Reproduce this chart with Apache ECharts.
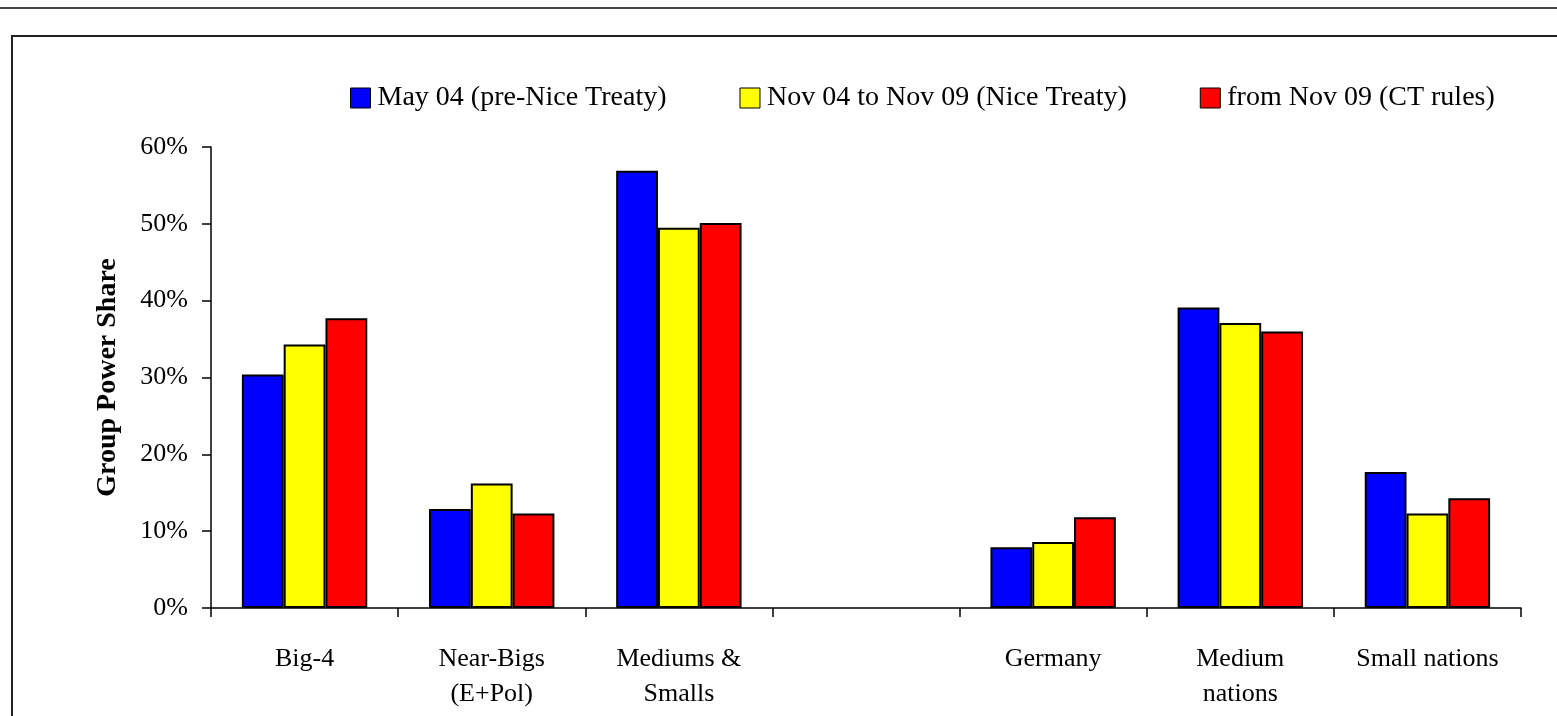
<!DOCTYPE html>
<html>
<head>
<meta charset="utf-8">
<script src="https://cdn.jsdelivr.net/npm/echarts@6/dist/echarts.min.js"></script>
</head>
<body style="height: 100%; margin: 0; background: #fff">
<div id="container" style="width: 1557px; height: 716px"></div>
<script>
  // groups (index 3 is the empty gap between the two panels)
  const categories = ['Big-4', 'Near-Bigs\n(E+Pol)', 'Mediums &\nSmalls', '', 'Germany', 'Medium\nnations', 'Small nations']
  const seriesNames = ['May 04 (pre-Nice Treaty)', 'Nov 04 to Nov 09 (Nice Treaty)', 'from Nov 09 (CT rules)']
  const preNice = [30.4, 12.9, 56.9, null, 7.9, 39.1, 17.7]
  const nice = [34.3, 16.2, 49.5, null, 8.6, 37.1, 12.3]
  const ctRules = [37.7, 12.3, 50.1, null, 11.8, 36.0, 14.3]
  const yTicks = [0, 10, 20, 30, 40, 50, 60]

  const colors = ['#0000ff', '#ffff00', '#ff0000']
  const font = '"Liberation Serif", "Times New Roman", serif'

  const mChart = echarts.init(document.getElementById('container'), null, { renderer: 'canvas' })

  const barSeries = [preNice, nice, ctRules].map(function (vals, i) {
    return {
      name: seriesNames[i],
      type: 'bar',
      data: vals,
      barGap: '0%',
      barCategoryGap: '33%',
      itemStyle: { color: colors[i], borderColor: '#000', borderWidth: 2 }
    }
  })

  const option = {
    animation: false,
    textStyle: { fontFamily: font },
    graphic: [
      {
        type: 'line',
        shape: { x1: 0, y1: 8, x2: 1557, y2: 8 },
        style: { stroke: '#444', lineWidth: 2 }
      },
      {
        type: 'rect',
        shape: { x: 12, y: 36, width: 1700, height: 900 },
        style: { stroke: '#222', lineWidth: 2, fill: 'none' }
      }
    ],
    legend: {
      left: 345,
      top: 79,
      itemWidth: 20,
      itemHeight: 20,
      itemGap: 73,
      icon: 'rect',
      textStyle: { fontFamily: font, fontSize: 28, color: '#000', padding: [0, 0, 0, 2] },
      itemStyle: { borderColor: '#000', borderWidth: 1 },
      data: seriesNames
    },
    grid: { left: 211, right: 36, top: 147, bottom: 108 },
    xAxis: {
      type: 'category',
      data: categories,
      axisLine: { lineStyle: { color: '#000', width: 1.5 } },
      axisTick: { show: true, length: 9, interval: 0, lineStyle: { color: '#000', width: 1.5 } },
      axisLabel: {
        interval: 0,
        margin: 34,
        fontFamily: font,
        fontSize: 26,
        lineHeight: 35,
        color: '#000'
      }
    },
    yAxis: {
      type: 'value',
      min: 0,
      max: 60,
      interval: 10,
      name: 'Group Power Share',
      nameLocation: 'middle',
      nameRotate: 90,
      nameGap: 89,
      nameTextStyle: { fontFamily: font, fontSize: 28, fontWeight: 'bold', color: '#000' },
      splitLine: { show: false },
      axisLine: { show: true, lineStyle: { color: '#000', width: 1.5 } },
      axisTick: { show: true, length: 9, lineStyle: { color: '#000', width: 1.5 } },
      axisLabel: {
        margin: 23,
        fontFamily: font,
        fontSize: 26,
        color: '#000',
        formatter: function (v) { return yTicks.indexOf(v) >= 0 ? v + '%' : '' }
      }
    },
    series: barSeries
  }

  mChart.setOption(option)
  window.addEventListener('resize', mChart.resize)
</script>
</body>
</html>
